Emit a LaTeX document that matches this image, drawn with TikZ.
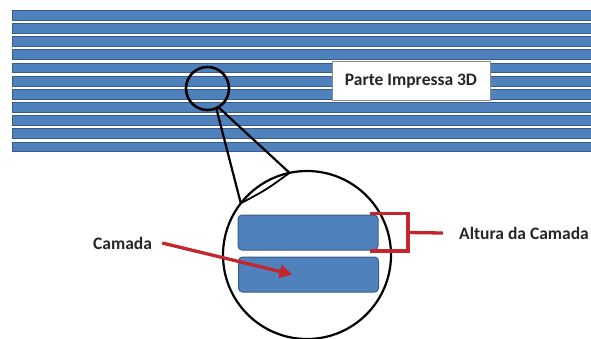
\documentclass[tikz,border=0pt]{standalone}
\usepackage{fontspec}
\setmainfont{Carlito}
\usepackage{xcolor}
\definecolor{clLayer}{HTML}{4F81BD}
\definecolor{clLayerEdge}{HTML}{385D8A}
\definecolor{clMark}{HTML}{C4262E}
\definecolor{clFrame}{HTML}{8C8C8C}
\usetikzlibrary{arrows.meta,positioning,calc}
\tikzset{
  stripe/.style={fill=clLayer, draw=clLayerEdge, line width=1pt},
  layerbox/.style={rectangle, rounded corners=4pt, fill=clLayer, draw=clLayerEdge,
                   line width=1pt, minimum width=140pt, minimum height=35pt,
                   inner sep=0pt, outer sep=0pt},
  lens/.style={circle, draw=black, inner sep=0pt, outer sep=0pt},
  caption/.style={font=\bfseries\fontsize{17.5}{19}\selectfont, inner sep=0pt, text=black!85},
  redline/.style={draw=clMark, line width=3.3pt},
  pointer/.style={redline, -{Triangle[length=13pt,width=13pt]}},
}

\begin{document}
\begin{tikzpicture}[x=1pt,y=-1pt]
  \useasboundingbox (0,0) rectangle (591,338);
  % printed layers
  \foreach \i in {0,...,10}
    \draw[stripe] (12,{10.5+\i*13.15}) rectangle (592,{20.3+\i*13.15});
  \node[draw=clFrame, fill=white, line width=0.9pt, minimum width=158pt,
        minimum height=39pt, inner sep=0pt,
        font=\bfseries\fontsize{17.5}{19}\selectfont, text=black!85] (parte) at (411,81) {Parte Impressa 3D};
  % magnifier
  \node[lens, line width=2.6pt, minimum size=43pt] (lupa) at (207.5,88.5) {};
  \node[lens, line width=2.2pt, minimum size=168pt] (zoomc) at (307,255) {};
  \draw[line width=2.2pt] (lupa.-66) -- (zoomc.142);
  \draw[line width=2.2pt] (lupa.-60) -- (zoomc.102);
  \coordinate (lensmid) at ($(zoomc.142)!.5!(zoomc.102)$);
  \draw[line width=1.8pt] (zoomc.142) .. controls ($(lensmid)!2pt!(zoomc.center)$) .. (zoomc.102);
  % two layers
  \node[layerbox] (topo) at (308,232.5) {};
  \node[layerbox] (base) at (308.5,274.5) {};
  % layer height
  \coordinate (bkt) at (408,232.5);
  \node[caption, anchor=west] (altura) at (459,233) {Altura da Camada};
  \draw[redline] ([xshift=-8pt,yshift=1.5pt]topo.north east) -| ([yshift=-15.5pt]bkt) ;
  \draw[redline] ([xshift=-8pt,yshift=-1pt]topo.south east) -| ([yshift=15.5pt]bkt);
  \draw[redline] (bkt) -- ([xshift=-16pt]altura.west);
  % layer label
  \node[caption, anchor=west] (camada) at (93,243) {Camada};
  \draw[pointer] ([xshift=10pt]camada.east) -- ([xshift=-16pt]base.center);
\end{tikzpicture}
\end{document}
